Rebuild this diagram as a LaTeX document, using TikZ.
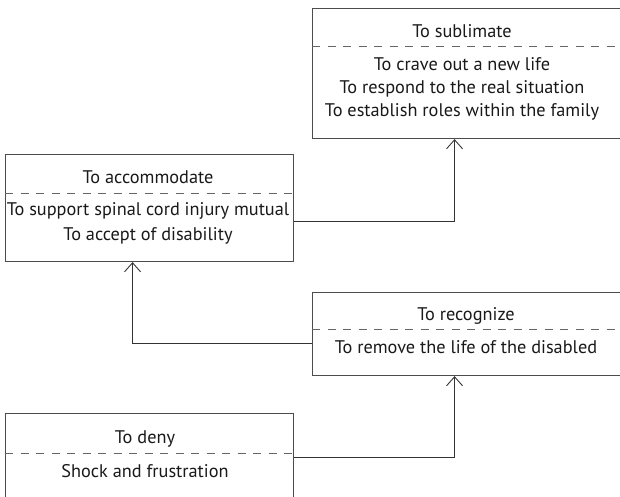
\documentclass[tikz,border=0pt]{standalone}
\usepackage{fontspec}
\setmainfont{PT Sans}
\usetikzlibrary{arrows.meta}
\begin{document}
\begin{tikzpicture}[x=1pt, y=-1pt,
        stage/.style={rectangle, draw=black!70, line width=1.1pt, anchor=north west, inner sep=0pt},
        head/.style={anchor=base, font=\fontsize{18.3}{22}\selectfont, text=black!90},
        body/.style={anchor=base, font=\fontsize{18.3}{22}\selectfont, text=black!90},
        divider/.style={draw=black!60, line width=0.9pt, dash pattern=on 8pt off 7.5pt},
        link/.style={draw=black!80, line width=0.9pt, -{Straight Barb[length=9pt, width=16pt]}}
    ]
        \clip (0,0) rectangle (620,496);

        % Stage boxes
        \node[stage, minimum width=320pt, minimum height=130pt] (sub) at (312,8) {};
        \node[stage, minimum width=288pt, minimum height=107pt] (acc) at (5,154) {};
        \node[stage, minimum width=320pt, minimum height=83pt] (rec) at (312,292) {};
        \node[stage, minimum width=288pt, minimum height=100pt] (deny) at (5,413) {};

        % Dashed dividers
        \draw[divider] (sub.west |- 0,46) -- (sub.east |- 0,46);
        \draw[divider] (acc.west |- 0,193) -- (acc.east |- 0,193);
        \draw[divider] (rec.west |- 0,329) -- (rec.east |- 0,329);
        \draw[divider] (deny.west |- 0,453) -- (deny.east |- 0,453);

        % Titles
        \node[head] (sub-head) at (462,37) {To sublimate};
        \node[head] (acc-head) at (148,183) {To accommodate};
        \node[head] (rec-head) at (466,320) {To recognize};
        \node[head] (deny-head) at (145,443) {To deny};

        % Contents
        \foreach \line [count=\i] in {To crave out a new life, To respond to the real situation, To establish roles within the family} {
            \node[body] (sub-\i) at (462,47+23*\i) {\line};
        }
        \node[body] (acc-1) at (148,215) {To support spinal cord injury mutual};
        \node[body] (acc-2) at (148,240) {To accept of disability};
        \node[body] (rec-1) at (466,353) {To remove the life of the disabled};
        \node[body] (deny-1) at (145,477) {Shock and frustration};

        % Connectors
        \draw[link] ([yshift=6pt]deny.east) -| ([xshift=-18pt]rec.south);
        \draw[link] ([yshift=-9.5pt]rec.west) -| ([xshift=-17pt]acc.south);
        \draw[link] ([yshift=-13.5pt]acc.east) -| ([xshift=-18pt]sub.south);
    \end{tikzpicture}
\end{document}
